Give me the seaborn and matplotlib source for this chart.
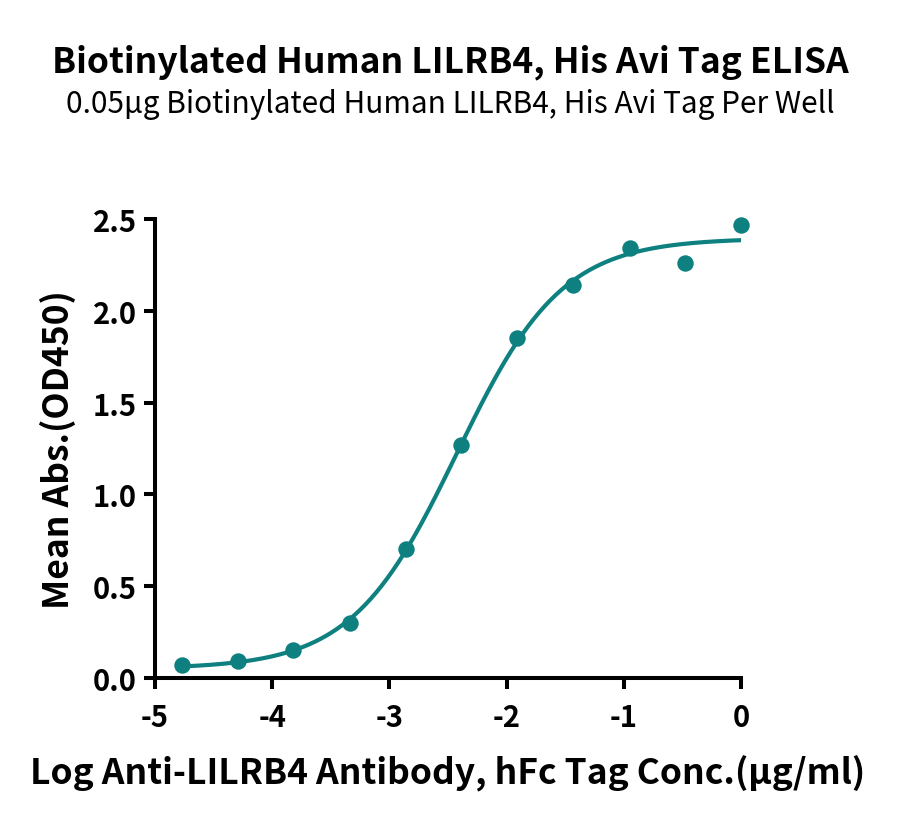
import numpy as np
import pandas as pd
import matplotlib
matplotlib.use("Agg")
import matplotlib.pyplot as plt
import seaborn as sns

# Data
log_conc = [-4.77, -4.29, -3.82, -3.34, -2.86, -2.39, -1.91, -1.43, -0.95, -0.48, 0.0]
mean_abs = [0.07, 0.09, 0.15, 0.30, 0.70, 1.27, 1.85, 2.14, 2.34, 2.26, 2.47]
x_ticks = [-5, -4, -3, -2, -1, 0]
y_ticks = [0.0, 0.5, 1.0, 1.5, 2.0, 2.5]

title = "Biotinylated Human LILRB4, His Avi Tag ELISA"
subtitle = "0.05μg Biotinylated Human LILRB4, His Avi Tag Per Well"
xlabel = "Log Anti-LILRB4 Antibody, hFc Tag Conc.(μg/ml)"
ylabel = "Mean Abs.(OD450)"
color = "#0f8080"

df = pd.DataFrame({"x": log_conc, "y": mean_abs})

# 4-parameter logistic least-squares fit (grid over EC50/Hill, linear solve for bottom/top)
xd = np.array(log_conc)
yd = np.array(mean_abs)
best = None
for ec in np.linspace(-3.5, -1.5, 401):
    for h in np.linspace(0.4, 2.0, 161):
        s = 1.0 / (1.0 + 10 ** ((ec - xd) * h))
        A = np.column_stack([1 - s, s])
        coef, *_ = np.linalg.lstsq(A, yd, rcond=None)
        r = np.sum((A @ coef - yd) ** 2)
        if best is None or r < best[0]:
            best = (r, ec, h, coef)
_, ec50, hill, (bottom, top) = best
xf = np.linspace(min(log_conc), max(log_conc), 300)
yf = bottom + (top - bottom) / (1.0 + 10 ** ((ec50 - xf) * hill))
fit = pd.DataFrame({"x": xf, "y": yf})

sns.set_theme(style="ticks")
plt.rcParams["font.family"] = ["Noto Sans CJK SC", "DejaVu Sans"]
plt.rcParams["text.color"] = "black"
plt.rcParams["axes.labelcolor"] = "black"
plt.rcParams["xtick.color"] = "black"
plt.rcParams["ytick.color"] = "black"

fig = plt.figure(figsize=(9, 8.29), dpi=100)
ax = fig.add_axes([155 / 900, 1 - 679 / 829, 586 / 900, 459 / 829])

sns.lineplot(data=fit, x="x", y="y", ax=ax, color=color, linewidth=3.0)
sns.scatterplot(data=df, x="x", y="y", ax=ax, color=color, s=140,
                edgecolor=color, linewidth=0, clip_on=False, zorder=5)

ax.set_xlim(-5, 0)
ax.set_ylim(0, 2.5)
ax.set_xticks(x_ticks)
ax.set_xticklabels([str(t) for t in x_ticks])
ax.set_yticks(y_ticks)
ax.set_yticklabels([f"{t:.1f}" for t in y_ticks])
for sp in ["top", "right"]:
    ax.spines[sp].set_visible(False)
for sp in ["left", "bottom"]:
    ax.spines[sp].set_linewidth(2.9)
    ax.spines[sp].set_color("black")
    ax.spines[sp].set_capstyle("projecting")
ax.tick_params(axis="both", direction="out", length=8, width=2.9, colors="black",
               labelsize=21, pad=5)
ax.tick_params(axis="x", pad=9)
for lab in ax.get_xticklabels() + ax.get_yticklabels():
    lab.set_fontweight("heavy")

ax.set_xlabel(xlabel, fontsize=25.5, fontweight="heavy", labelpad=16)
ax.set_ylabel(ylabel, fontsize=25.5, fontweight="heavy", labelpad=12)

fig.text(0.5, 1 - 62 / 829, title, ha="center", va="center", fontsize=25.5, fontweight="heavy")
fig.text(0.5, 1 - 105 / 829, subtitle, ha="center", va="center", fontsize=21.5)

fig.savefig("out.png", dpi=100)
